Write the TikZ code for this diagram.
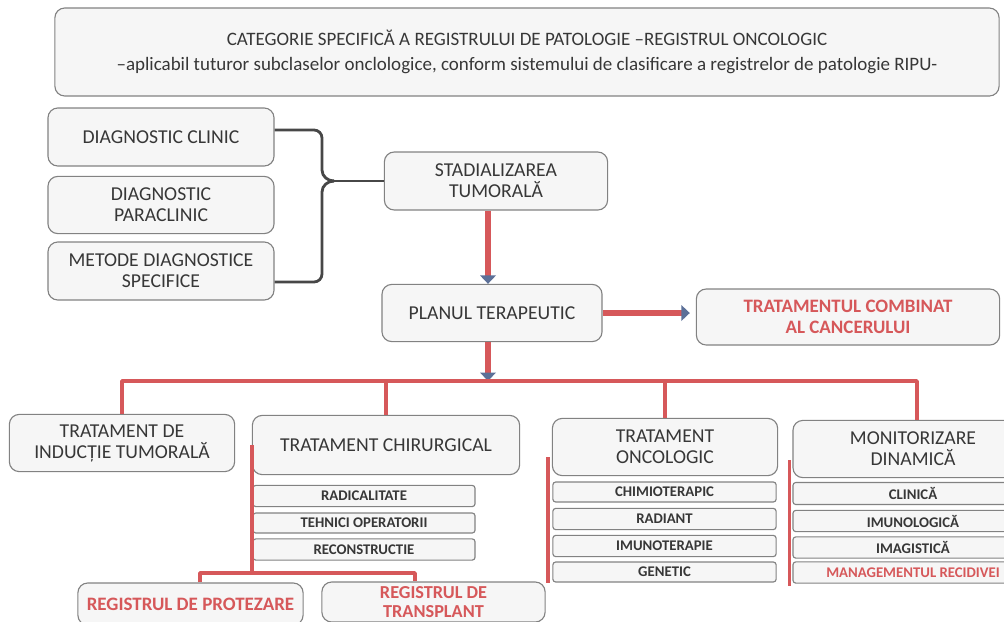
\documentclass[tikz,border=0pt]{standalone}
\usepackage{fontspec}
\setmainfont{Carlito}
\usetikzlibrary{arrows.meta,calc}

\definecolor{boxline}{RGB}{130,130,130}
\definecolor{boxfill}{RGB}{246,246,246}
\definecolor{txtgrey}{RGB}{55,55,55}
\definecolor{regred}{RGB}{214,88,90}
\definecolor{tipblue}{RGB}{92,112,152}

\tikzset{
  box/.style={draw=boxline,fill=boxfill,rounded corners=7pt,text=txtgrey,align=center,
    font=\fontsize{14}{15}\selectfont,inner sep=2pt,line width=0.8pt},
  subbox/.style={draw=boxline,fill=boxfill,rounded corners=2pt,text=txtgrey,
    font=\bfseries\fontsize{10.5}{12}\selectfont,inner sep=0pt,line width=0.8pt},
  redtxt/.style={text=regred,font=\bfseries\fontsize{13.5}{14.5}\selectfont},
  redline/.style={draw=regred,line width=2.6pt,line join=round},
  brace/.style={draw=black!72,line width=2pt},
  bigarrow/.style={draw=regred,line width=4pt,-{Triangle[length=6pt,width=11pt,color=tipblue]}},
}

\begin{document}
\begin{tikzpicture}[x=0.025cm,y=-0.025cm]
  \useasboundingbox (0,0) rectangle (1004,621);
  % header
  \node[box,font=\fontsize{13.5}{17.5}\selectfont,minimum width=23.6cm,minimum height=2.2cm] (titel) at (527,52)
    {CATEGORIE SPECIFICĂ A REGISTRULUI DE PATOLOGIE –REGISTRUL ONCOLOGIC\\
     –aplicabil tuturor subclaselor onclologice, conform sistemului de clasificare a registrelor de patologie RIPU-};
  % diagnostic
  \node[box,minimum width=5.65cm,minimum height=1.45cm] (clin) at (161,137) {DIAGNOSTIC CLINIC};
  \node[box,minimum width=5.65cm,minimum height=1.43cm] (para) at (161,205) {DIAGNOSTIC\\PARACLINIC};
  \node[box,minimum width=5.65cm,minimum height=1.45cm] (metode) at (161,271) {METODE DIAGNOSTICE\\SPECIFICE};
  \node[box,minimum width=5.58cm,minimum height=1.45cm] (stad) at (496,181) {STADIALIZAREA\\TUMORALĂ};
  \node[box,minimum width=5.5cm,minimum height=1.43cm] (plan) at (492,313) {PLANUL TERAPEUTIC};
  \node[box,redtxt,minimum width=7.58cm,minimum height=1.4cm] (comb) at (848,317) {TRATAMENTUL COMBINAT\\AL CANCERULUI};
  % tratament
  \node[box,minimum width=5.63cm,minimum height=1.43cm] (indu) at (122,443) {TRATAMENT DE\\INDUCȚIE TUMORALĂ};
  \node[box,minimum width=6.68cm,minimum height=1.48cm] (chir) at (386,445) {TRATAMENT CHIRURGICAL};
  \node[box,minimum width=5.63cm,minimum height=1.43cm] (onco) at (665,447) {TRATAMENT\\ONCOLOGIC};
  \node[box,minimum width=6cm,minimum height=1.43cm] (moni) at (913,449) {MONITORIZARE\\DINAMICĂ};
  % chirurgical
  \node[subbox,minimum width=5.55cm,minimum height=0.53cm] (radi) at (364,496) {RADICALITATE};
  \node[subbox,minimum width=5.55cm,minimum height=0.5cm] (tehn) at (364,523) {TEHNICI OPERATORII};
  \node[subbox,minimum width=5.55cm,minimum height=0.53cm] (reco) at (364,549.5) {RECONSTRUCTIE};
  % oncologic
  \node[subbox,minimum width=5.58cm,minimum height=0.5cm] (chim) at (664.5,492) {CHIMIOTERAPIC};
  \node[subbox,minimum width=5.58cm,minimum height=0.53cm] (radt) at (664.5,519) {RADIANT};
  \node[subbox,minimum width=5.58cm,minimum height=0.53cm] (imut) at (664.5,546) {IMUNOTERAPIE};
  \node[subbox,minimum width=5.58cm,minimum height=0.5cm] (gene) at (664.5,572) {GENETIC};
  % monitorizare
  \node[subbox,minimum width=6cm,minimum height=0.55cm] (clinic) at (913,493.5) {CLINICĂ};
  \node[subbox,minimum width=6cm,minimum height=0.53cm] (imun) at (913,521) {IMUNOLOGICĂ};
  \node[subbox,minimum width=6cm,minimum height=0.53cm] (imag) at (913,547.5) {IMAGISTICĂ};
  \node[subbox,text=regred,minimum width=6cm,minimum height=0.53cm] (mana) at (913,572.5) {MANAGEMENTUL RECIDIVEI};
  % registre
  \node[box,redtxt,minimum width=5.63cm,minimum height=1.05cm] (prot) at (190.5,604) {REGISTRUL DE PROTEZARE};
  \node[box,redtxt,font=\bfseries\fontsize{13}{13.5}\selectfont,minimum width=5.58cm,minimum height=1.0cm] (trans) at (433.5,602) {REGISTRUL DE\\TRANSPLANT};

  % connectors
  \coordinate (brtip) at (334,181);
  \draw[brace] ($(clin.east)+(0,-7)$) -- (314,130) to[out=0,in=90] (322,138) -- (322,170) to[out=-90,in=180] (brtip);
  \draw[brace] ($(metode.east)+(0,11)$) -- (314,282) to[out=0,in=-90] (322,274) -- (322,192) to[out=90,in=180] (brtip);
  \draw[brace] (brtip) -- (stad.west);

  \coordinate (bus) at (488,381);
  \coordinate (monitick) at (917,381);
  \draw[bigarrow] (stad.south -| bus) -- (plan.north -| bus);
  \draw[bigarrow] (plan.east) -- ($(plan.east -| comb.west)+(-6,0)$);
  \draw[bigarrow] (plan.south -| bus) -- (bus);
  \draw[redline] (indu.north) -- (indu.north |- bus) -- (monitick) -- (monitick |- moni.north);
  \draw[redline] (chir.north) -- (chir.north |- bus);
  \draw[redline] (onco.north) -- (onco.north |- bus);

  \coordinate (protick) at (200,573);
  \coordinate (transtick) at (415,573);
  \draw[redline] (chir.west) -- (chir.west |- protick) -- (protick);
  \draw[redline] (protick |- prot.north) -- (protick) -- (transtick) -- (transtick |- trans.north);
  \draw[redline] ($(onco.west)+(-4,10)$) -- ($(onco.west |- gene.south)+(-4,0)$);
  \draw[redline] ($(moni.west)+(-3,11)$) -- ($(moni.west |- mana.south)+(-3,2)$);
\end{tikzpicture}
\end{document}
